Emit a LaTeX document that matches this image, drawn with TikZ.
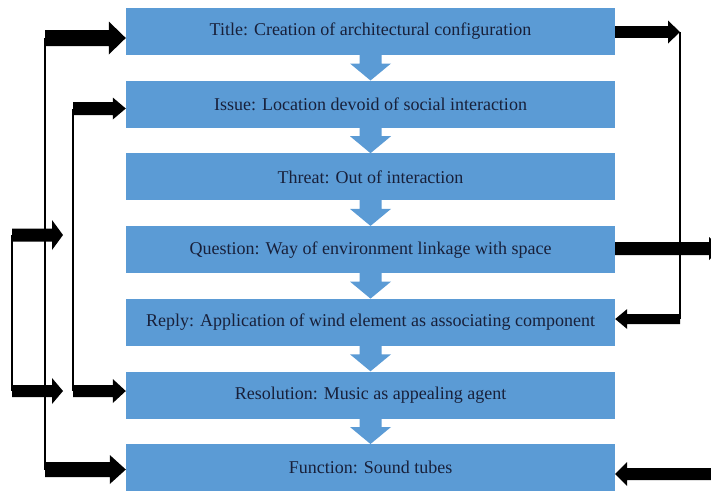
\documentclass[tikz,border=0pt]{standalone}
\usepackage{fontspec}
\setmainfont{Liberation Serif}
\usetikzlibrary{calc}
\definecolor{boxblue}{RGB}{91,155,213}
\definecolor{txtnavy}{RGB}{24,32,58}
\newcommand{\fatarr}[5]{%
  \coordinate (fatH) at ($(#2)!#5!(#1)$);
  \fill[black] ($(#1)!#3!90:(#2)$) -- ($(fatH)!#3!90:(#2)$) -- ($(fatH)!#4!90:(#2)$)
    -- (#2) -- ($(fatH)!#4!-90:(#2)$) -- ($(fatH)!#3!-90:(#2)$) -- ($(#1)!#3!-90:(#2)$) -- cycle;}
\begin{document}
\begin{tikzpicture}[x=1pt,y=-1pt,
  stage/.style={fill=boxblue, draw=none, minimum width=489pt, minimum height=47pt,
    inner sep=0pt, text=txtnavy, font=\fontsize{18}{20}\selectfont},
  thinline/.style={draw=black, line width=1.8pt}]
\clip (0,0) rectangle (711,491);
\fill[white] (0,0) rectangle (711,491);
% boxes
\node[stage] (b1) at (370.5,31.5) {Title: Creation of architectural configuration};
\node[stage] (b2) at (370.5,104.2) {Issue: Location devoid of social interaction};
\node[stage] (b3) at (370.5,176.9) {Threat: Out of interaction};
\node[stage] (b4) at (370.5,249.6) {Question: Way of environment linkage with space};
\node[stage] (b5) at (370.5,322.3) {Reply: Application of wind element as associating component};
\node[stage] (b6) at (370.5,395.0) {Resolution: Music as appealing agent};
\node[stage] (b7) at (370.5,467.7) {Function: Sound tubes};
% down arrows
\foreach \a/\b in {b1/b2,b2/b3,b3/b4,b4/b5,b5/b6,b6/b7}{
  \fill[boxblue] ($(\a.south)+(-11,-1)$) -- ($(\a.south)+(11,-1)$) -- ($(\b.north)+(11,-17)$)
    -- ($(\b.north)+(20.5,-17)$) -- (\b.north) -- ($(\b.north)+(-20.5,-17)$) -- ($(\b.north)+(-11,-17)$) -- cycle;
}
% left coordinates
\coordinate (L1) at (45,38);
\coordinate (L2) at (45,469.5);
\coordinate (M1) at (73,108.5);
\coordinate (M2) at (73,391);
\coordinate (K1) at (12,235);
\coordinate (K2) at (12,391);
\coordinate (KT1) at (63,235);
\coordinate (KT2) at (63,391);
\coordinate (T1) at (b1.west|-L1);
\coordinate (T7) at (b7.west|-L2);
\coordinate (T2) at (b2.west|-M1);
\coordinate (T6) at (b6.west|-M2);
% right coordinates
\coordinate (R1) at (680,32);
\coordinate (R2) at (680,319);
\coordinate (S1) at (b1.east|-R1);
\coordinate (S5) at (b5.east|-R2);
\coordinate (Q) at (721,248.5);
\coordinate (S4) at (b4.east|-Q);
\coordinate (F) at (716,474);
\coordinate (S7) at (b7.east|-F);
% thin lines
\draw[thinline] (L1) -- (L2);
\draw[thinline] (M1) -- (M2);
\draw[thinline] (K1) -- (K2);
\draw[thinline] (R1) -- (R2);
% fat arrows left
\fatarr{L1}{T1}{8pt}{16.5pt}{17pt}
\fatarr{L2}{T7}{7.5pt}{14.5pt}{16pt}
\fatarr{M1}{T2}{6.5pt}{11pt}{13pt}
\fatarr{M2}{T6}{6pt}{12pt}{13pt}
\fatarr{K1}{KT1}{6.5pt}{15pt}{11pt}
\fatarr{K2}{KT2}{6pt}{13pt}{11pt}
% fat arrows right
\fatarr{S1}{R1}{5.8pt}{11.5pt}{12pt}
\fatarr{R2}{S5}{5pt}{10pt}{12pt}
\fatarr{S4}{Q}{6.5pt}{11.5pt}{12pt}
\fatarr{F}{S7}{6pt}{12pt}{12pt}
\end{tikzpicture}
\end{document}
